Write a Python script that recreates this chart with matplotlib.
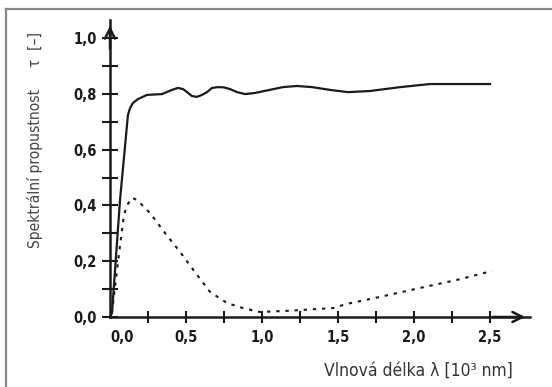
import matplotlib.pyplot as plt
import matplotlib.transforms as mtransforms
import numpy as np

# solid curve: wavelength [10^3 nm] vs transmittance
solid_x = [0.0, 0.013, 0.066, 0.118, 0.132, 0.151, 0.184, 0.243, 0.342, 0.408,
           0.447, 0.480, 0.507, 0.539, 0.572, 0.605, 0.638, 0.671, 0.711, 0.75,
           0.789, 0.836, 0.888, 0.954, 1.05, 1.138, 1.23, 1.329, 1.447, 1.566,
           1.71, 1.91, 2.105, 2.30, 2.5]
solid_y = [0.0, 0.014, 0.42, 0.724, 0.749, 0.767, 0.781, 0.796, 0.799, 0.814,
           0.821, 0.817, 0.806, 0.792, 0.789, 0.796, 0.806, 0.821, 0.824, 0.823,
           0.817, 0.806, 0.799, 0.803, 0.814, 0.824, 0.828, 0.824, 0.814, 0.806,
           0.81, 0.824, 0.835, 0.835, 0.835]

# dotted curve
dot_x = [0.013, 0.046, 0.079, 0.092, 0.112, 0.145, 0.164, 0.184, 0.263, 0.362,
         0.461, 0.559, 0.658, 0.770, 0.875, 0.987, 1.164, 1.467, 1.559, 1.776,
         2.039, 2.283, 2.513]
dot_y = [0.014, 0.168, 0.312, 0.366, 0.401, 0.427, 0.423, 0.416, 0.373, 0.301,
         0.233, 0.161, 0.090, 0.050, 0.032, 0.018, 0.022, 0.032, 0.047, 0.072,
         0.104, 0.133, 0.165]

xtick_vals = [0.0, 0.5, 1.0, 1.5, 2.0, 2.5]
xtick_labels = ['0,0', '0,5', '1,0', '1,5', '2,0', '2,5']
ytick_vals = [0.0, 0.2, 0.4, 0.6, 0.8, 1.0]
ytick_labels = ['0,0', '0,2', '0,4', '0,6', '0,8', '1,0']

fam = ['DejaVu Sans']

fig = plt.figure(figsize=(5.52, 3.87), dpi=100)
ax = fig.add_axes([110 / 552, 70 / 387, 420 / 552, 297 / 387])
ax.set_xlim(0, 420 / 152)
ax.set_ylim(0, 297 / 279)

ax.plot(solid_x, solid_y, color='#1a1a1a', lw=1.6, solid_joinstyle='round')
ax.plot(dot_x, dot_y, color='#1a1a1a', lw=1.5, linestyle=(0, (1.6, 2.8)))

for s in ['top', 'right']:
    ax.spines[s].set_visible(False)
for s in ['left', 'bottom']:
    ax.spines[s].set_linewidth(1.8)
    ax.spines[s].set_color('#1a1a1a')

# arrows at the ends of the axes
ax.annotate('', xy=(0, 294 / 279), xytext=(0, 0.95),
            arrowprops=dict(arrowstyle='->', lw=1.8, color='#1a1a1a', mutation_scale=18))
ax.annotate('', xy=(418 / 152, 0), xytext=(2.5, 0),
            arrowprops=dict(arrowstyle='->', lw=1.8, color='#1a1a1a', mutation_scale=18))

ax.set_yticks(np.arange(0, 1.01, 0.1), minor=True)
ax.set_yticks(ytick_vals)
ax.set_yticklabels(ytick_labels, fontfamily=fam, fontweight='bold', fontsize=10.5,
                   fontstretch='condensed')
ax.set_xticks(np.arange(0.25, 2.51, 0.25), minor=True)
ax.set_xticks(xtick_vals)
ax.set_xticklabels(xtick_labels, fontfamily=fam, fontweight='bold', fontsize=10.5,
                   fontstretch='condensed')
ax.tick_params(axis='y', which='both', direction='inout', length=11, width=1.5,
               color='#1a1a1a', pad=4, labelcolor='#1a1a1a')
ax.tick_params(axis='x', which='both', direction='inout', length=8, width=1.5,
               color='#1a1a1a', pad=5, labelcolor='#1a1a1a')
# first x label sits a bit right of the origin
lbl0 = ax.get_xticklabels()[0]
lbl0.set_transform(lbl0.get_transform() + mtransforms.ScaledTranslation(0.12, 0, fig.dpi_scale_trans))
ax.get_xticklines()[0].set_visible(False)
ax.get_xticklines()[1].set_visible(False)

fig.text(513 / 552, 1 - 371 / 387, 'Vlnová délka λ [10³ nm]', ha='right', va='center',
         fontsize=12.5, family=fam, fontstretch='condensed', color='#333333')
fig.text(35 / 552, 1 - 140 / 387, 'Spektrální propustnost     τ  [–]', ha='center', va='center',
         rotation=90, fontsize=11.2, family=fam, fontstretch='condensed', color='#444444')

# frame lines (top and left only)
fig.add_artist(plt.Line2D([6 / 552, 1], [1 - 9 / 387, 1 - 9 / 387], transform=fig.transFigure,
                          color='#888888', lw=1.6))
fig.add_artist(plt.Line2D([6 / 552, 6 / 552], [0, 1 - 9 / 387], transform=fig.transFigure,
                          color='#888888', lw=1.6))

fig.savefig('out.png', dpi=100)
